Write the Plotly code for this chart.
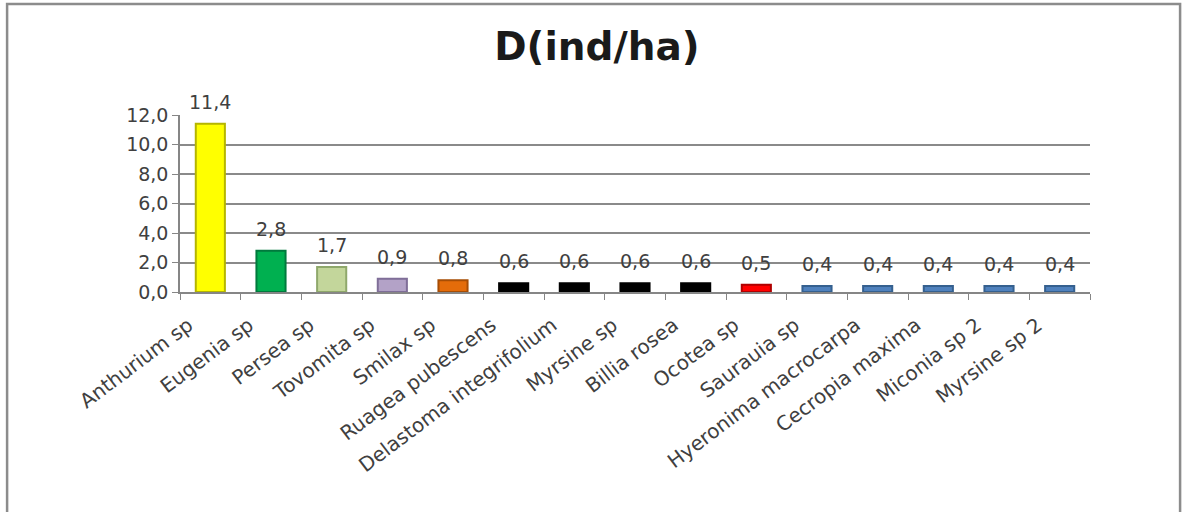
import plotly.graph_objects as go

# Species and density values (individuals per hectare)
species = [
    "Anthurium sp", "Eugenia sp", "Persea sp", "Tovomita sp", "Smilax sp",
    "Ruagea pubescens", "Delastoma integrifolium", "Myrsine sp", "Billia rosea",
    "Ocotea sp", "Saurauia sp", "Hyeronima macrocarpa", "Cecropia maxima",
    "Miconia sp 2", "Myrsine sp 2",
]
density = [11.4, 2.8, 1.7, 0.9, 0.8, 0.6, 0.6, 0.6, 0.6, 0.5, 0.4, 0.4, 0.4, 0.4, 0.4]
bar_colors = [
    "#FFFF00", "#00B050", "#C3D69B", "#B3A2C7", "#E46C0A",
    "#000000", "#000000", "#000000", "#000000",
    "#FF0000", "#4F81BD", "#4F81BD", "#4F81BD", "#4F81BD", "#4F81BD",
]
edge_colors = [
    "#B5B500", "#007A3D", "#8FA86B", "#7F6E98", "#A64D05",
    "#000000", "#000000", "#000000", "#000000",
    "#B00000", "#35608F", "#35608F", "#35608F", "#35608F", "#35608F",
]
y_ticks = [0, 2, 4, 6, 8, 10, 12]

FONT = "DejaVu Sans"
TEXT = "#404040"

fig = go.Figure(
    go.Bar(
        x=species,
        y=density,
        marker=dict(color=bar_colors, line=dict(color=edge_colors, width=2)),
        cliponaxis=False,
        width=0.48,
    )
)

# Value labels above each bar, formatted with a decimal comma
value_labels = [
    dict(
        x=name, y=val, xref="x", yref="y",
        text=f"{val:.1f}".replace(".", ","),
        showarrow=False, yanchor="bottom", yshift=9,
        font=dict(family=FONT, size=19, color=TEXT),
    )
    for name, val in zip(species, density)
]

fig.update_layout(
    width=1182,
    height=512,
    separators=", ",
    paper_bgcolor="white",
    plot_bgcolor="white",
    margin=dict(l=180, r=92, t=115, b=220),
    showlegend=False,
    annotations=value_labels,
    title=dict(
        text="<b>D(ind/ha)</b>",
        x=0.505,
        xanchor="center",
        y=0.91,
        yanchor="middle",
        font=dict(family=FONT, size=39, color="#1a1a1a"),
    ),
    shapes=[
        dict(
            type="rect", xref="paper", yref="paper",
            x0=-0.190, x1=1.099, y0=-1.5, y1=1.627,
            line=dict(color="#8c8c8c", width=2.5),
            fillcolor="rgba(0,0,0,0)",
            layer="below",
        )
    ],
)

fig.update_xaxes(
    type="category",
    tickangle=-37,
    tickfont=dict(family=FONT, size=20, color=TEXT),
    ticklabelstandoff=12,
    ticklabelshift=-22,
    showline=True,
    linecolor="#868686",
    linewidth=1.5,
    ticks="outside",
    tickson="boundaries",
    ticklen=6,
    tickcolor="#868686",
    showgrid=False,
)

fig.update_yaxes(
    range=[0, 12],
    tickvals=y_ticks,
    tickformat=".1f",
    tickfont=dict(family=FONT, size=19, color=TEXT),
    showline=True,
    linecolor="#868686",
    linewidth=1.5,
    ticks="outside",
    ticklen=6,
    tickcolor="#868686",
    showgrid=True,
    gridcolor="#8a8a8a",
    gridwidth=1.5,
    zeroline=False,
)

fig.write_html("out.html")
